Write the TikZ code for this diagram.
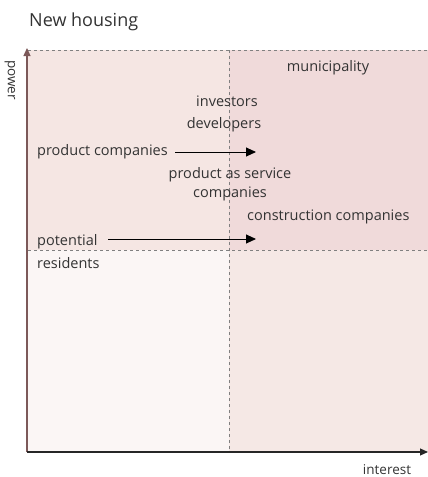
\documentclass[tikz,border=0pt]{standalone}
\usepackage{fontspec}
\setmainfont{Open Sans}
\usetikzlibrary{arrows.meta}
\definecolor{qtl}{HTML}{F5E6E3}
\definecolor{qtr}{HTML}{F0DADA}
\definecolor{qbl}{HTML}{FBF6F5}
\definecolor{qbr}{HTML}{F5E8E5}
\definecolor{txt}{HTML}{333333}
\begin{document}
\begin{tikzpicture}[x=1pt,y=-1pt,
  lbl/.style={text=txt,font=\fontsize{14.5}{19}\selectfont,inner sep=0pt},
  axis/.style={line width=1.1pt,-{Triangle[length=8pt,width=7pt]}},
  divider/.style={draw=black!50,dashed,line width=0.6pt},
  pointer/.style={line width=0.9pt,-{Triangle[length=10pt,width=9pt]}}]
\useasboundingbox (0,0) rectangle (428,477);
% quadrants
\fill[qtl] (28,50) rectangle (229,250);
\fill[qtr] (229,50) rectangle (428,250);
\fill[qbl] (28,250) rectangle (229,452);
\fill[qbr] (229,250) rectangle (428,452);
\draw[divider] (28,50) -- (428,50);
\draw[divider] (28,250) -- (428,250);
\draw[divider] (229,50) -- (229,452);
% axes
\coordinate (o) at (27,452);
\coordinate (ytop) at (27,48);
\coordinate (xend) at (428,452);
\draw[axis,draw=black!55!red!30!gray] (o) -- (ytop);
\draw[axis,draw=black!85] (o) -- (xend);
% title and axis labels
\node[text=txt,font=\fontsize{18}{20}\selectfont,anchor=west,inner sep=0pt] (title) at (29,22) {New housing};
\node[lbl,font=\fontsize{13.5}{15}\selectfont,rotate=-90] (power) at (10,80) {power};
\node[lbl,font=\fontsize{13.5}{15}\selectfont] (interest) at (387,470) {interest};
% stakeholders
\node[lbl] (muni) at (328,68) {municipality};
\node[lbl] (inv) at (227,101) {investors};
\node[lbl] (dev) at (224,125) {developers};
\node[lbl,anchor=west] (prod) at (37,152) {product companies};
\node[lbl,align=center] (pas) at (230,184) {product as service\\companies};
\node[lbl,anchor=west] (cons) at (247,217) {construction companies};
\node[lbl,anchor=west] (pot) at (37,242) {potential};
\node[lbl,anchor=west] (res) at (37,263) {residents};
\coordinate (prodstart) at (175,152);
\coordinate (prodend) at (256,152);
\coordinate (potstart) at (108,239);
\coordinate (potend) at (256,239);
\draw[pointer] (prodstart) -- (prodend);
\draw[pointer] (potstart) -- (potend);
\end{tikzpicture}
\end{document}
